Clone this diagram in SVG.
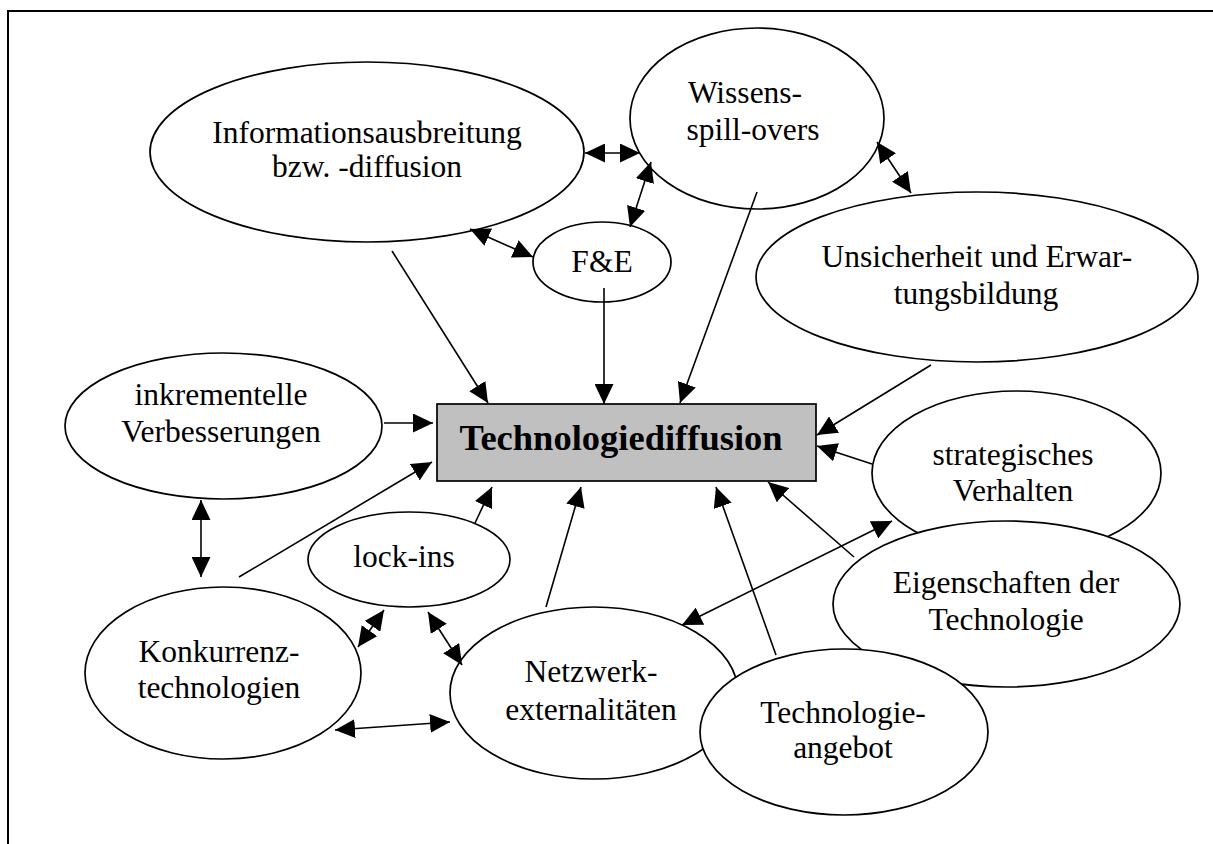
<svg xmlns="http://www.w3.org/2000/svg" width="1213" height="844" viewBox="0 0 1213 844">
<style>
.n{fill:#fff;stroke:#000;stroke-width:1.7}
.t{font-family:"Liberation Serif","Times New Roman",serif;font-size:31.5px;fill:#000;text-anchor:middle}
.c line{stroke:#000;stroke-width:1.6}
.a{marker-end:url(#ah)}
.d{marker-start:url(#ah);marker-end:url(#ah)}
</style>
<defs>
<marker id="ah" markerUnits="userSpaceOnUse" markerWidth="21" markerHeight="19" refX="20" refY="9.5" orient="auto-start-reverse" viewBox="0 0 21 19">
<path d="M0,0 L20,9.5 L0,19 z" fill="#000"/>
</marker>
</defs>
<rect width="1213" height="844" fill="#fff"/>
<path d="M8,844 V11 H1213" fill="none" stroke="#000" stroke-width="2"/>

<g id="info"><ellipse class="n" cx="367" cy="152" rx="217" ry="90"/>
<text class="t" x="367" y="143">Informationsausbreitung</text><text class="t" x="367" y="177">bzw. -diffusion</text></g>
<g id="wissens"><ellipse class="n" cx="757" cy="118.5" rx="127" ry="90.5"/>
<text class="t" x="745" y="103">Wissens-</text><text class="t" x="753" y="140">spill-overs</text></g>
<g id="fue"><ellipse class="n" cx="602" cy="262" rx="69" ry="40"/>
<text class="t" x="602" y="272">F&amp;E</text></g>
<g id="unsicherheit"><ellipse class="n" cx="977" cy="277" rx="221" ry="85"/>
<text class="t" x="977" y="267">Unsicherheit und Erwar-</text><text class="t" x="976" y="304">tungsbildung</text></g>
<g id="inkrementell"><ellipse class="n" cx="223.5" cy="426" rx="158.5" ry="73"/>
<text class="t" x="221" y="405">inkrementelle</text><text class="t" x="221" y="442">Verbesserungen</text></g>
<g id="techdiff"><rect x="437" y="404" width="379" height="77" fill="#c0c0c0" stroke="#000" stroke-width="1.7"/>
<text x="621" y="450" text-anchor="middle" font-family="'Liberation Serif','Times New Roman',serif" font-size="36.5" font-weight="bold">Technologiediffusion</text></g>
<g id="strategisch"><ellipse class="n" cx="1016.5" cy="473" rx="144.5" ry="82"/>
<text class="t" x="1013" y="465">strategisches</text><text class="t" x="1013" y="501">Verhalten</text></g>
<g id="lockins"><ellipse class="n" cx="409" cy="559.5" rx="101" ry="47.5"/>
<text class="t" x="404" y="567">lock-ins</text></g>
<g id="konkurrenz"><ellipse class="n" cx="223" cy="673" rx="138" ry="86"/>
<text class="t" x="219" y="662">Konkurrenz-</text><text class="t" x="219" y="698">technologien</text></g>
<g id="netzwerk"><ellipse class="n" cx="594" cy="693" rx="144" ry="86"/>
<text class="t" x="591" y="682">Netzwerk-</text><text class="t" x="591" y="720">externalitäten</text></g>
<g id="eigenschaften"><ellipse class="n" cx="1006.5" cy="604" rx="173.5" ry="83"/>
<text class="t" x="1006" y="593">Eigenschaften der</text><text class="t" x="1006" y="630">Technologie</text></g>
<g id="angebot"><ellipse class="n" cx="844" cy="732" rx="144" ry="83"/>
<text class="t" x="843" y="723">Technologie-</text><text class="t" x="843" y="758">angebot</text></g>

<g id="connectors" class="c">
<line class="a" x1="392" y1="251" x2="488" y2="403"/>
<line class="a" x1="604" y1="288" x2="604" y2="404"/>
<line class="a" x1="757" y1="192" x2="680" y2="403"/>
<line class="a" x1="931" y1="365" x2="817" y2="435"/>
<line class="a" x1="872" y1="464" x2="817" y2="446"/>
<line class="a" x1="854" y1="557" x2="768" y2="482"/>
<line class="a" x1="776" y1="655" x2="716" y2="487"/>
<line class="a" x1="546" y1="607" x2="581" y2="487"/>
<line class="a" x1="475" y1="523" x2="492" y2="487"/>
<line class="a" x1="239" y1="577" x2="432" y2="462"/>
<line class="a" x1="384" y1="423" x2="433" y2="423"/>
<line class="d" x1="201" y1="500" x2="201" y2="577"/>
<line class="d" x1="585" y1="153" x2="640" y2="153"/>
<line class="d" x1="651" y1="162" x2="630" y2="227"/>
<line class="d" x1="470" y1="229" x2="533" y2="257"/>
<line class="d" x1="877" y1="142" x2="911" y2="193"/>
<line class="d" x1="358" y1="647" x2="384" y2="610"/>
<line class="d" x1="428" y1="612" x2="462" y2="665"/>
<line class="d" x1="335" y1="730" x2="450" y2="722"/>
<line class="d" x1="682" y1="625" x2="892" y2="521"/>
</g>
</svg>
